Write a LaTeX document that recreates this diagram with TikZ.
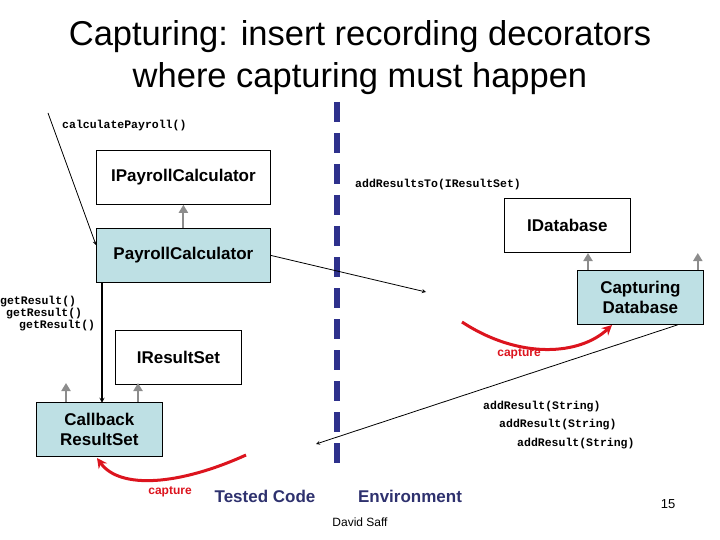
\documentclass[tikz,border=0pt]{standalone}
\usepackage{fontspec}
\setmainfont{Liberation Sans}
\newfontfamily\mono{Liberation Mono}
\usetikzlibrary{arrows.meta}
\begin{document}
\begin{tikzpicture}[x=1pt,y=-1pt,
 box/.style={draw,line width=0.8pt,minimum width=174pt,minimum height=54pt,anchor=north west,font=\bfseries\fontsize{17}{20}\selectfont,align=center,inner sep=0pt},
 sbox/.style={box,minimum width=126pt},
 hl/.style={fill={rgb,255:red,190;green,224;blue,228}},
 gen/.style={draw=gray!90,line width=2pt,-{Triangle[length=8pt,width=9pt]}},
 call/.style={->,>=stealth,line width=0.8pt},
 code/.style={font=\mono\bfseries\fontsize{11.5}{13}\selectfont,inner sep=0pt,anchor=west},
 capline/.style={draw={rgb,255:red,220;green,20;blue,30},line width=3pt,-{Stealth[length=10pt,width=10pt]}},
 captxt/.style={text={rgb,255:red,220;green,20;blue,30},font=\bfseries\fontsize{12}{14}\selectfont},
 zone/.style={text={rgb,255:red,46;green,49;blue,110},font=\bfseries\fontsize{17}{20}\selectfont}]
\useasboundingbox (0,0) rectangle (720,540);
\node[font=\fontsize{34.5}{42}\selectfont,align=center] (title) at (360,58) {Capturing: insert recording decorators\\where capturing must happen};
\draw[draw={rgb,255:red,46;green,49;blue,140},line width=6pt,dash pattern=on 20pt off 11pt] (337,102) coordinate (d1) -- (337,466) coordinate (d2);
\node[box] (ipc) at (96,150) {IPayrollCalculator};
\node[box,hl] (pc) at (96,228) {PayrollCalculator};
\node[sbox] (idb) at (504,198) {IDatabase};
\node[sbox,hl] (cdb) at (577,270) {Capturing\\Database};
\node[sbox] (irs) at (115,330) {IResultSet};
\node[sbox,hl] (crs) at (36,402) {Callback\\ResultSet};
\draw[gen] (pc.north) -- (ipc.south);
\draw[gen] (cdb.north west)++(11,0) -- ++(0,-17);
\draw[gen] (cdb.north east)++(-6,0) -- ++(0,-17);
\draw[gen] (crs.north west)++(30,0) -- ++(0,-19);
\draw[gen] (crs.north west)++(102,0) -- ++(0,-19);
\coordinate (s1) at (48,113);
\draw[call] (s1) -- (pc.west |- 0,245) ;
\node[code] (t1) at (62,126) {calculatePayroll()};
\coordinate (e1) at (426,292);
\draw[call] (pc.east) -- (e1);
\node[code] (t2) at (355,185) {addResultsTo(IResultSet)};
\coordinate (e2) at (316,444);
\draw[call] (cdb.south east)++(-26,0) -- (e2);
\node[code] (t3) at (483,407) {addResult(String)};
\node[code] (t4) at (499,425) {addResult(String)};
\node[code] (t5) at (517,444) {addResult(String)};
\draw[call,line width=1.2pt] (pc.south west)++(6,0) -- ++(0,120);
\node[code] (g1) at (0,302) {getResult()};
\node[code] (g2) at (6,314) {getResult()};
\node[code] (g3) at (19,326) {getResult()};
\coordinate (c1) at (462,322);
\draw[capline] (c1) .. controls (520,360) and (580,355) .. (612,325);
\node[captxt] (ct1) at (519,354) {capture};
\coordinate (c2) at (246,455);
\draw[capline] (c2) .. controls (180,485) and (120,490) .. (97,458);
\node[captxt] (ct2) at (170,492) {capture};
\node[zone] (tc) at (265,496) {Tested Code};
\node[zone] (env) at (410,496) {Environment};
\node[font=\fontsize{12}{14}\selectfont] (auth) at (360,522) {David Saff};
\node[font=\fontsize{13}{14}\selectfont] (pg) at (668,504) {15};
\end{tikzpicture}
\end{document}
